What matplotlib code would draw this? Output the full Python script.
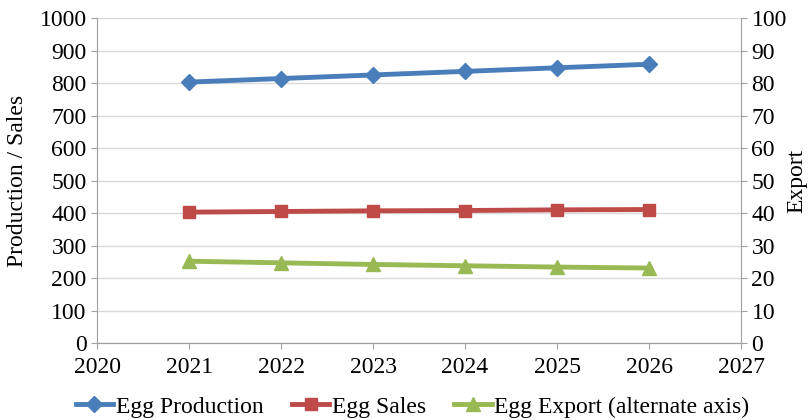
import numpy as np
import matplotlib.pyplot as plt

plt.rcParams['font.family'] = ['Liberation Serif', 'DejaVu Serif']

years = [2021, 2022, 2023, 2024, 2025, 2026]
production = [803, 814, 825, 836, 847, 858]
sales = [403, 405, 407, 408, 410, 411]
export = [25.2, 24.7, 24.2, 23.8, 23.4, 23.1]

fig = plt.figure(figsize=(8.09, 4.2), dpi=100)
ax = fig.add_axes([0.12, 0.183, 0.796, 0.774])
ax2 = ax.twinx()

l1, = ax.plot(years, production, '-D', color='#4A7EBB', lw=3.5, ms=8, label='Egg Production')
l2, = ax.plot(years, sales, '-s', color='#BE4B48', lw=3.5, ms=9, label='Egg Sales')
l3, = ax2.plot(years, export, '-^', color='#98B954', lw=3.5, ms=10, label='Egg Export (alternate axis)')

ax.set_xlim(2020, 2027)
ax.set_ylim(0, 1000)
ax2.set_ylim(0, 100)
ax.set_xticks(range(2020, 2028))
ax.set_yticks(range(0, 1001, 100))
ax2.set_yticks(range(0, 101, 10))
ax.grid(axis='y', color='#D9D9D9', lw=1)
ax.set_axisbelow(True)

for a in (ax, ax2):
    for s in a.spines.values():
        s.set_color('#A0A0A0')
    a.spines['top'].set_visible(False)
    a.tick_params(labelsize=17, color='#A0A0A0', length=4)
ax.spines['right'].set_visible(False)
ax2.spines['left'].set_visible(False)
ax.tick_params(axis='x', pad=6)

ax.set_ylabel('Production / Sales', fontsize=17, va='center')
ax2.set_ylabel('Export', fontsize=17, rotation=90, va='center')
ax.yaxis.set_label_coords(-0.123, 0.5)
ax2.yaxis.set_label_coords(1.087, 0.5)

fig.legend(handles=[l1, l2, l3], loc='lower center', ncol=3, frameon=False,
           fontsize=17, bbox_to_anchor=(0.51, -0.045), handlelength=1.6, columnspacing=1.2,
           handletextpad=0.1)

fig.savefig('out.png', dpi=100)
